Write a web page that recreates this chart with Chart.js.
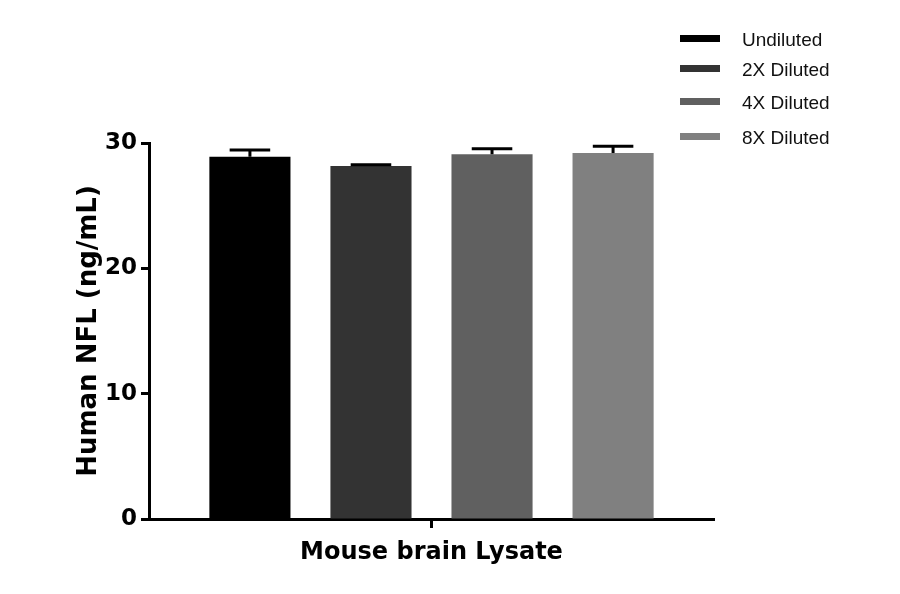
<!DOCTYPE html>
<html lang="en">
  <head>
    <meta charset="UTF-8" />
    <title>Human NFL</title>
    <script src="https://cdn.jsdelivr.net/npm/chart.js@4.4.0/dist/chart.umd.min.js"></script>
    <style>
      body { margin: 0; background: #fff; }
    </style>
  </head>
  <body>
    <canvas id="chart" width="900" height="594"></canvas>
    <script>
      const categories = ["Mouse brain Lysate"];
      const seriesNames = ["Undiluted", "2X Diluted", "4X Diluted", "8X Diluted"];
      const seriesValues = [28.9, 28.17, 29.1, 29.2];
      const seriesErrors = [0.55, 0.1, 0.45, 0.55];
      const seriesColors = ["#000000", "#333333", "#606060", "#808080"];
      const yTicks = [0, 10, 20, 30];

      const boldFont = "'DejaVu Sans', sans-serif";

      // upward-only error bars with a cap
      const errorBars = {
        id: "errorBars",
        afterDatasetsDraw(chart) {
          const ctx = chart.ctx;
          const y = chart.scales.y;
          ctx.save();
          ctx.strokeStyle = "#000";
          ctx.lineWidth = 3;
          chart.data.datasets.forEach((ds, i) => {
            const bar = chart.getDatasetMeta(i).data[0];
            const top = y.getPixelForValue(ds.data[0] + seriesErrors[i]);
            const capHalf = bar.width / 4;
            ctx.beginPath();
            ctx.moveTo(bar.x, bar.y);
            ctx.lineTo(bar.x, top);
            ctx.moveTo(bar.x - capHalf, top);
            ctx.lineTo(bar.x + capHalf, top);
            ctx.stroke();
          });
          ctx.restore();
        },
      };

      // legend sitting in the top right corner
      const sideLegend = {
        id: "sideLegend",
        afterDraw(chart) {
          const ctx = chart.ctx;
          const rows = [39, 69, 102, 137];
          ctx.save();
          ctx.font = "19px 'Liberation Sans', Arial, sans-serif";
          ctx.textBaseline = "middle";
          chart.data.datasets.forEach((ds, i) => {
            ctx.fillStyle = ds.backgroundColor;
            ctx.fillRect(680, rows[i] - 4, 40, 7);
            ctx.fillStyle = "#111";
            ctx.fillText(ds.label, 742, rows[i] + 2);
          });
          ctx.restore();
        },
      };

      const ctx = document.getElementById("chart").getContext("2d");
      new Chart(ctx, {
        type: "bar",
        data: {
          labels: categories,
          datasets: seriesNames.map((name, i) => ({
            label: name,
            data: [seriesValues[i]],
            backgroundColor: seriesColors[i],
            categoryPercentage: 0.857,
            barPercentage: 0.67,
          })),
        },
        options: {
          responsive: false,
          animation: false,
          layout: { padding: { top: 143, right: 186, left: 74, bottom: 0 } },
          plugins: { legend: { display: false }, tooltip: { enabled: false } },
          scales: {
            x: {
              afterFit(scale) { scale.height = 75; },
              grid: {
                offset: false,
                drawOnChartArea: false,
                drawTicks: true,
                tickLength: 9,
                tickWidth: 3,
                tickColor: "#000",
              },
              border: { color: "#000", width: 3 },
              ticks: {
                color: "#000",
                padding: 10,
                font: { family: boldFont, size: 24, weight: "bold" },
              },
            },
            y: {
              min: 0,
              max: 30,
              afterFit(scale) { scale.width = 75; },
              afterBuildTicks(scale) { scale.ticks = yTicks.map((v) => ({ value: v })); },
              grid: {
                drawOnChartArea: false,
                drawTicks: true,
                tickLength: 8,
                tickWidth: 3,
                tickColor: "#000",
              },
              border: { color: "#000", width: 3 },
              ticks: {
                color: "#000",
                padding: 4,
                font: { family: boldFont, size: 23, weight: "bold" },
              },
              title: {
                display: true,
                text: "Human NFL (ng/mL)",
                color: "#000",
                padding: { top: 0, bottom: 0 },
                font: { family: boldFont, size: 26, weight: "bold" },
              },
            },
          },
        },
        plugins: [errorBars, sideLegend],
      });
    </script>
  </body>
</html>
